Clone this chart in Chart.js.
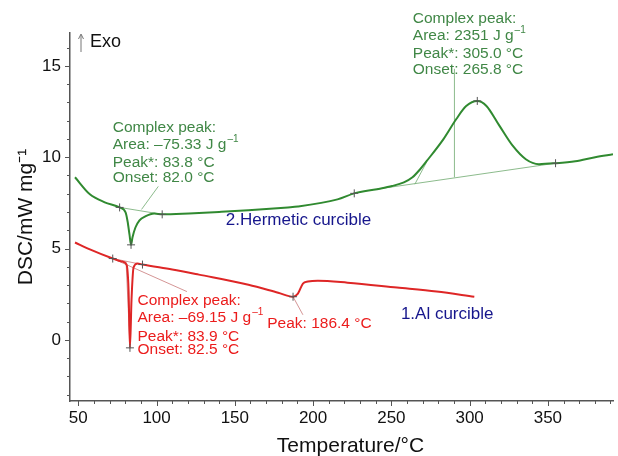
<!DOCTYPE html>
<html>
<head>
<meta charset="utf-8">
<script src="https://cdn.jsdelivr.net/npm/chart.js@4.4.1/dist/chart.umd.min.js"></script>
<style>
  html, body { margin: 0; padding: 0; background: #fff; }
  #wrap { width: 618px; height: 456px; position: relative; }
</style>
</head>
<body>
<div id="wrap"><canvas id="dsc"></canvas></div>
<script>
// ---- data ----
const xTickLabels = [50, 100, 150, 200, 250, 300, 350];
const yTickLabels = [0, 5, 10, 15];

// 2. Hermetic crucible (green)
const greenT = [47.9, 57.4, 66.9, 76.4, 80.2, 81.5, 82.7, 83.7, 84.6, 86.5, 89.1, 92.8, 98.5, 103.6, 120.7, 140, 158.7, 183.9, 190.3, 215.6, 226.3, 240.8, 250.5, 258, 263.5, 268.4, 272.5, 283.3, 291.5, 297.8, 304.9, 310.6, 319, 327.5, 335.9, 344.3, 354.9, 367.5, 380.2, 391.6];
const greenY = [8.9, 7.97, 7.53, 7.25, 6.98, 6.48, 5.77, 5.2, 5.6, 6.15, 6.54, 6.76, 6.92, 6.87, 6.92, 7.0, 7.09, 7.25, 7.3, 7.69, 8.02, 8.25, 8.42, 8.62, 8.9, 9.34, 9.78, 10.99, 12.09, 12.8, 13.08, 12.82, 11.73, 10.63, 9.89, 9.62, 9.67, 9.78, 10.0, 10.16];

// 1. Al crucible (red)
const redT = [47.9, 57.4, 72, 77.7, 80.8, 82.1, 83.0, 84.0, 85.3, 87.8, 91, 110, 127, 158.7, 177.7, 187.2, 190.3, 193.5, 196.7, 203, 222, 253.6, 278.9, 303];
const redY = [5.33, 4.95, 4.45, 4.29, 4.12, 2.75, -0.44, 2.2, 3.96, 4.18, 4.12, 3.85, 3.57, 3.02, 2.58, 2.36, 2.53, 3.08, 3.19, 3.24, 3.13, 2.86, 2.64, 2.36];

// evaluation markers (+)
const greenMarkT = [76.4, 83.7, 103.6, 226.3, 304.9, 354.9];
const greenMarkY = [7.25, 5.2, 6.87, 8.02, 13.08, 9.67];
const redMarkT = [72, 83.0, 91, 187.2];
const redMarkY = [4.45, -0.44, 4.12, 2.36];

// construction / pointer lines, [T, value] pairs
const greenGuides = [
  [[76.4, 7.25], [103.6, 6.87]],
  [[90.4, 7.14], [101.1, 8.4]],
  [[240.8, 8.25], [354.9, 9.67]],
  [[265, 8.52], [272.5, 9.73]],
  [[290.3, 8.9], [290.3, 14.84]]
];
const redGuides = [
  [[72, 4.45], [91, 4.12]],
  [[72, 4.45], [119.4, 2.64]],
  [[80.5, 4.3], [83.0, -0.3]],
  [[187.2, 2.36], [193.5, 1.37]]
];

// annotation texts, anchored at [T, value]; ^ starts a superscript
const greenNoteLeft = ['Complex peak:', 'Area: \u201375.33 J g^\u20131', 'Peak*: 83.8 \u00b0C', 'Onset: 82.0 \u00b0C'];
const greenNoteTop = ['Complex peak:', 'Area: 2351 J g^\u20131', 'Peak*: 305.0 \u00b0C', 'Onset: 265.8 \u00b0C'];
const redNote = ['Complex peak:', 'Area: \u201369.15 J g^\u20131', 'Peak*: 83.9 \u00b0C', 'Onset: 82.5 \u00b0C'];

const FONT = '"Liberation Sans", Arial, Helvetica, sans-serif';
const GREEN = 'rgb(48,138,48)';
const GREEN_TXT = 'rgb(64,135,70)';
const RED = 'rgb(222,38,38)';
const RED_TXT = 'rgb(235,28,28)';
const BLUE = 'rgb(22,22,140)';

const toXY = (xs, ys) => xs.map((x, i) => ({ x: x, y: ys[i] }));

const guideSets = (guides, color) => guides.map(g => ({
  data: g.map(p => ({ x: p[0], y: p[1] })),
  borderColor: color,
  borderWidth: 1,
  pointRadius: 0,
  tension: 0,
  order: 3
}));

// text with optional superscript after '^'
function drawRich(ctx, x, y, str, size) {
  const parts = str.split('^');
  ctx.font = size + 'px ' + FONT;
  ctx.fillText(parts[0], x, y);
  if (parts[1]) {
    const w = ctx.measureText(parts[0]).width;
    ctx.font = Math.round(size * 0.62) + 'px ' + FONT;
    ctx.fillText(parts[1], x + w + 1, y - size * 0.36);
  }
}

const notesPlugin = {
  id: 'notes',
  afterDraw(chart) {
    const ctx = chart.ctx;
    const xs = chart.scales.x, ys = chart.scales.y;
    const px = v => xs.getPixelForValue(v);
    const py = v => ys.getPixelForValue(v);
    ctx.save();
    ctx.textBaseline = 'middle';
    ctx.textAlign = 'left';

    const block = (lines, t, vals, color) => {
      ctx.fillStyle = color;
      lines.forEach((s, i) => drawRich(ctx, px(t), py(vals[i]), s, 15.5));
    };
    block(greenNoteLeft, 72.0, [11.62, 10.66, 9.68, 8.86], GREEN_TXT);
    block(greenNoteTop, 263.7, [17.6, 16.66, 15.68, 14.8], GREEN_TXT);
    block(redNote, 87.8, [2.16, 1.22, 0.18, -0.52], RED_TXT);

    ctx.fillStyle = RED_TXT;
    drawRich(ctx, px(170.7), py(0.9), 'Peak: 186.4 \u00b0C', 15.5);

    ctx.fillStyle = BLUE;
    drawRich(ctx, px(144.2), py(6.55), '2.Hermetic curcible', 17);
    drawRich(ctx, px(256.1), py(1.4), '1.Al curcible', 17);

    // Exo arrow
    const ax = xs.left + 11;
    ctx.strokeStyle = '#777';
    ctx.lineWidth = 1;
    ctx.beginPath();
    ctx.moveTo(ax, ys.top + 19);
    ctx.lineTo(ax, ys.top + 2);
    ctx.moveTo(ax - 2.5, ys.top + 6);
    ctx.lineTo(ax, ys.top + 1);
    ctx.lineTo(ax + 2.5, ys.top + 6);
    ctx.stroke();
    ctx.fillStyle = '#111';
    drawRich(ctx, ax + 9, ys.top + 9, 'Exo', 18);

    // x axis title, sits a little right of the plot centre in the reference
    ctx.textAlign = 'center';
    ctx.font = '21px ' + FONT;
    ctx.fillText('Temperature/\u00b0C', (xs.left + xs.right) / 2 + 9, xs.top + 45);

    // axis tick marks: minor and major
    ctx.strokeStyle = '#555';
    ctx.lineWidth = 1;
    ctx.beginPath();
    for (let v = 50; v <= xs.max; v += 10) {
      const len = v % 50 === 0 ? 5 : 3;
      const x = Math.round(px(v)) + 0.5;
      ctx.moveTo(x, xs.top);
      ctx.lineTo(x, xs.top + len);
    }
    for (let v = -3; v <= ys.max; v += 1) {
      const len = v % 5 === 0 ? 5 : 3;
      const y = Math.round(py(v)) + 0.5;
      ctx.moveTo(ys.right, y);
      ctx.lineTo(ys.right - len, y);
    }
    ctx.stroke();
    ctx.restore();
  }
};

new Chart(document.getElementById('dsc'), {
  type: 'line',
  data: {
    datasets: [
      { data: toXY(greenMarkT, greenMarkY), showLine: false, pointStyle: 'cross', pointRadius: 4,
        borderColor: '#555', borderWidth: 1, order: 0 },
      { data: toXY(redMarkT, redMarkY), showLine: false, pointStyle: 'cross', pointRadius: 4,
        borderColor: '#555', borderWidth: 1, order: 0 },
      { data: toXY(greenT, greenY), borderColor: GREEN, borderWidth: 2, pointRadius: 0,
        cubicInterpolationMode: 'monotone', order: 1 },
      { data: toXY(redT, redY), borderColor: RED, borderWidth: 2, pointRadius: 0,
        cubicInterpolationMode: 'monotone', order: 1 },
      ...guideSets(greenGuides, 'rgba(120,175,120,0.85)'),
      ...guideSets(redGuides, 'rgba(205,130,130,0.85)')
    ]
  },
  options: {
    responsive: true,
    maintainAspectRatio: false,
    animation: false,
    layout: { padding: { top: 33, right: 0, left: 0, bottom: 0 } },
    plugins: { legend: { display: false }, tooltip: { enabled: false } },
    scales: {
      x: {
        type: 'linear',
        min: 44.7,
        max: 391.6,
        afterBuildTicks: s => { s.ticks = xTickLabels.map(v => ({ value: v })); },
        afterFit: s => { s.height = 55; },
        grid: { drawOnChartArea: false, drawTicks: false },
        border: { display: true, color: '#555', width: 1.5 },
        ticks: { color: '#111', padding: 7, maxRotation: 0, font: { family: FONT, size: 17 } },
        title: { display: false }
      },
      y: {
        type: 'linear',
        min: -3.35,
        max: 16.8,
        afterBuildTicks: s => { s.ticks = yTickLabels.map(v => ({ value: v })); },
        afterFit: s => { s.width = 70; },
        grid: { drawOnChartArea: false, drawTicks: false },
        border: { display: true, color: '#555', width: 1.5 },
        ticks: { color: '#111', padding: 9, font: { family: FONT, size: 17 } },
        title: { display: true, text: 'DSC/mW mg\u207b\u00b9', color: '#111', padding: { top: 14, bottom: 0 },
          font: { family: FONT, size: 21 } }
      }
    }
  },
  plugins: [notesPlugin]
});
</script>
</body>
</html>
